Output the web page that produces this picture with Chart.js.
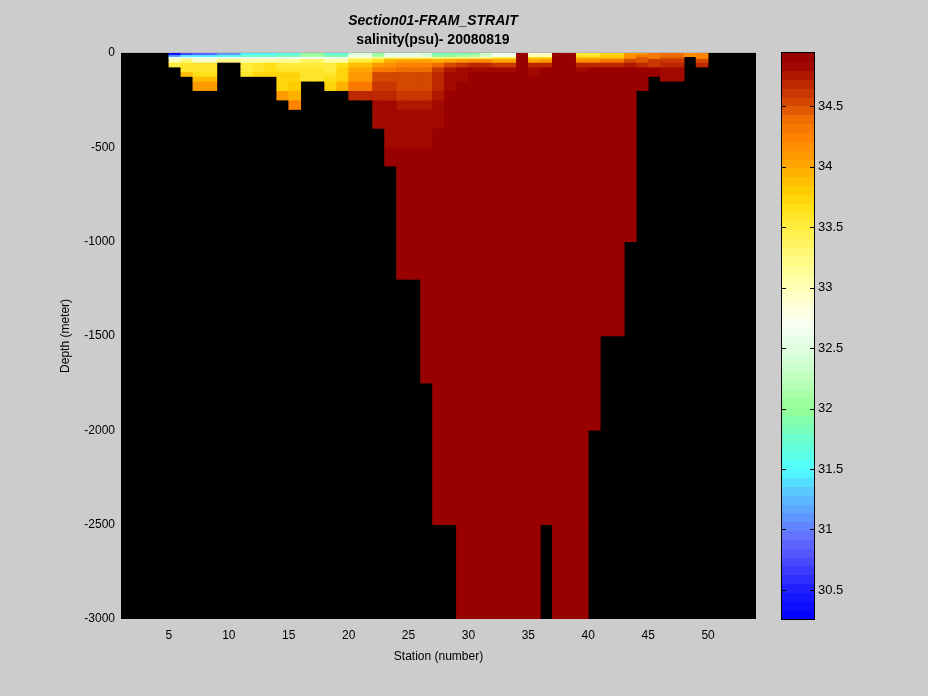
<!DOCTYPE html>
<html><head><meta charset="utf-8">
<script src="https://cdn.jsdelivr.net/npm/chart.js@4.4.1/dist/chart.umd.min.js"></script>
<style>html,body{margin:0;padding:0;background:#cccccc;overflow:hidden}canvas{display:block}</style>
</head><body>
<canvas id="c" width="928" height="696"></canvas>
<script>
// ---------------- DATA ----------------
const titleText = 'Section01-FRAM_STRAIT';
const subtitleText = 'salinity(psu)- 20080819';
const xTitle = 'Station (number)';
const yTitle = 'Depth (meter)';

// station of the left edge of each cell column
const stations = [5,6,7,8,9,10,11,12,13,14,15,16,17,18,19,20,21,22,23,24,25,26,27,28,29,30,31,32,33,34,35,36,37,38,39,40,41,42,43,44,45,46,47,48,49];

// depth levels (m) bounding the cell rows
const depthLevels = [0,10,20,30,50,75,100,125,150,200,250,300,400,500,600,1000,1200,1500,1750,2000,2500,3000];

// salinity profile of every station column, from surface row downward (length = rows with data)
const profiles = [
 /*5*/  [30.35,31.2,32.6,33.0,33.55],
 /*6*/  [30.7,31.5,32.6,33.3,33.6,33.6,33.85],
 /*7*/  [30.9,31.5,32.6,32.95,33.6,33.6,33.65,33.9,34.1],
 /*8*/  [30.9,31.5,32.6,32.95,33.6,33.6,33.65,33.9,34.1],
 /*9*/  [31.1,31.6,32.6,33.2],
 /*10*/ [31.1,31.6,32.6,33.2],
 /*11*/ [31.5,31.75,32.7,33.1,33.55,33.55,33.6],
 /*12*/ [31.5,31.75,32.7,33.1,33.6,33.6,33.7],
 /*13*/ [31.5,31.75,32.7,33.1,33.65,33.65,33.7],
 /*14*/ [31.6,31.8,32.7,33.15,33.55,33.6,33.7,33.75,33.75,34.1],
 /*15*/ [31.6,31.8,32.7,33.15,33.55,33.6,33.7,33.75,33.8,33.95,34.25],
 /*16*/ [31.95,32.1,32.7,33.4,33.55,33.6,33.6,33.6],
 /*17*/ [31.95,32.1,32.7,33.4,33.55,33.6,33.6,33.6],
 /*18*/ [31.7,31.9,32.7,33.1,33.55,33.55,33.6,33.65,33.75],
 /*19*/ [31.7,31.9,32.7,33.1,33.65,33.7,33.7,33.75,33.95],
 /*20*/ [32.4,32.6,33.1,33.55,33.85,34.0,34.1,34.1,34.35,34.7],
 /*21*/ [32.4,32.6,33.1,33.55,33.85,34.0,34.1,34.1,34.35,34.7],
 /*22*/ [32.0,32.1,33.2,33.65,34.1,34.35,34.55,34.55,34.6,34.68,34.82,34.85],
 /*23*/ [32.5,32.6,33.3,33.95,34.15,34.35,34.55,34.55,34.6,34.68,34.82,34.85,34.85,34.93],
 /*24*/ [32.5,32.6,33.3,34.0,34.25,34.42,34.52,34.52,34.52,34.62,34.74,34.85,34.85,34.93,34.93,34.93],
 /*25*/ [32.5,32.6,33.3,34.0,34.25,34.42,34.52,34.52,34.52,34.62,34.74,34.85,34.85,34.93,34.93,34.93],
 /*26*/ [32.4,32.5,33.3,34.0,34.25,34.42,34.52,34.52,34.52,34.62,34.74,34.85,34.85,34.93,34.93,34.93,34.93,34.93],
 /*27*/ [31.85,32.0,33.3,33.95,34.4,34.6,34.7,34.7,34.72,34.75,34.8,34.85,34.93,34.93,34.93,34.93,34.93,34.93,34.93,34.93],
 /*28*/ [31.9,32.0,33.3,34.05,34.55,34.74,34.82,34.82,34.85,34.93,34.93,34.93,34.93,34.93,34.93,34.93,34.93,34.93,34.93,34.93],
 /*29*/ [31.9,32.1,33.3,34.1,34.6,34.8,34.82,34.82,34.87,34.93,34.93,34.93,34.93,34.93,34.93,34.93,34.93,34.93,34.93,34.93,34.93],
 /*30*/ [32.0,32.2,33.3,34.15,34.65,34.82,34.93,34.93,34.93,34.93,34.93,34.93,34.93,34.93,34.93,34.93,34.93,34.93,34.93,34.93,34.93],
 /*31*/ [32.3,32.5,33.3,34.15,34.65,34.82,34.93,34.93,34.93,34.93,34.93,34.93,34.93,34.93,34.93,34.93,34.93,34.93,34.93,34.93,34.93],
 /*32*/ [32.65,32.7,33.55,34.0,34.6,34.8,34.87,34.93,34.93,34.93,34.93,34.93,34.93,34.93,34.93,34.93,34.93,34.93,34.93,34.93,34.93],
 /*33*/ [32.65,32.7,33.55,34.0,34.6,34.8,34.87,34.93,34.93,34.93,34.93,34.93,34.93,34.93,34.93,34.93,34.93,34.93,34.93,34.93,34.93],
 /*34*/ [34.93,34.93,34.93,34.93,34.93,34.93,34.93,34.93,34.93,34.93,34.93,34.93,34.93,34.93,34.93,34.93,34.93,34.93,34.93,34.93,34.93],
 /*35*/ [32.95,33.0,33.75,34.05,34.67,34.82,34.85,34.93,34.93,34.93,34.93,34.93,34.93,34.93,34.93,34.93,34.93,34.93,34.93,34.93,34.93],
 /*36*/ [32.95,33.0,33.75,34.1,34.67,34.87,34.93,34.93,34.93,34.93,34.93,34.93,34.93,34.93,34.93,34.93,34.93,34.93,34.93,34.93],
 /*37*/ [34.93,34.93,34.93,34.93,34.93,34.93,34.93,34.93,34.93,34.93,34.93,34.93,34.93,34.93,34.93,34.93,34.93,34.93,34.93,34.93,34.93],
 /*38*/ [34.93,34.93,34.93,34.93,34.93,34.93,34.93,34.93,34.93,34.93,34.93,34.93,34.93,34.93,34.93,34.93,34.93,34.93,34.93,34.93,34.93],
 /*39*/ [33.55,33.6,33.85,34.15,34.67,34.8,34.93,34.93,34.93,34.93,34.93,34.93,34.93,34.93,34.93,34.93,34.93,34.93,34.93,34.93,34.93],
 /*40*/ [33.55,33.6,33.85,34.2,34.67,34.87,34.93,34.93,34.93,34.93,34.93,34.93,34.93,34.93,34.93,34.93,34.93,34.93,34.93],
 /*41*/ [33.75,33.8,33.9,34.3,34.65,34.87,34.93,34.93,34.93,34.93,34.93,34.93,34.93,34.93,34.93,34.93,34.93],
 /*42*/ [33.75,33.8,33.9,34.3,34.65,34.87,34.93,34.93,34.93,34.93,34.93,34.93,34.93,34.93,34.93,34.93,34.93],
 /*43*/ [34.1,34.15,34.15,34.55,34.74,34.9,34.93,34.93,34.93,34.93,34.93,34.93,34.93,34.93,34.93],
 /*44*/ [34.15,34.3,34.45,34.45,34.7,34.9,34.93,34.93,34.93],
 /*45*/ [34.35,34.35,34.35,34.6,34.6,34.87,34.9],
 /*46*/ [34.42,34.42,34.5,34.62,34.65,34.8,34.8,34.8],
 /*47*/ [34.42,34.42,34.5,34.62,34.65,34.8,34.8,34.8],
 /*48*/ [34.2,34.2],
 /*49*/ [34.25,34.25,34.25,34.55,34.67]
];

const xRange = [1, 54];
const yRange = [-3000, 0];
const xTicks = [5,10,15,20,25,30,35,40,45,50];
const yTicks = [0,-500,-1000,-1500,-2000,-2500,-3000];
const colorRange = [30.26, 34.94];
const cbTicks = [30.5,31,31.5,32,32.5,33,33.5,34,34.5];

// ---------------- STYLE ----------------
const FONT = "'Liberation Sans', Arial, Helvetica, sans-serif";
const NBANDS = 64;
const cmapAnchors = [
 [30.26,[0,0,255]],[30.50,[30,30,255]],[30.80,[85,85,255]],[30.95,[100,115,255]],
 [31.10,[95,150,255]],[31.30,[90,195,255]],[31.50,[80,255,255]],[31.75,[105,255,205]],
 [32.00,[150,255,150]],[32.25,[190,255,190]],[32.50,[225,255,225]],[32.70,[248,255,245]],
 [32.90,[255,255,205]],[33.10,[255,255,160]],[33.30,[255,248,115]],[33.50,[255,237,65]],
 [33.65,[255,225,25]],[33.80,[255,205,0]],[34.00,[255,168,0]],[34.25,[255,130,0]],
 [34.38,[242,112,0]],[34.50,[218,80,0]],[34.65,[195,48,0]],[34.80,[168,14,0]],
 [34.88,[153,0,0]],[34.94,[153,0,0]]
];
function interpColor(v){
  if (v <= cmapAnchors[0][0]) return cmapAnchors[0][1];
  for (let i=1;i<cmapAnchors.length;i++){
    const [v1,c1]=cmapAnchors[i], [v0,c0]=cmapAnchors[i-1];
    if (v <= v1){ const t=(v-v0)/(v1-v0); return c0.map((c,k)=>Math.round(c+(c1[k]-c)*t)); }
  }
  return cmapAnchors[cmapAnchors.length-1][1];
}
const bandStep = (colorRange[1]-colorRange[0])/NBANDS;
const bandColors = [];
for (let i=0;i<NBANDS;i++){
  const c = interpColor(colorRange[0]+(i+0.5)*bandStep);
  bandColors.push(`rgb(${c[0]},${c[1]},${c[2]})`);
}
function colorFor(v){
  let i = Math.floor((v-colorRange[0])/bandStep);
  i = Math.max(0, Math.min(NBANDS-1, i));
  return bandColors[i];
}

// ---------------- DATASETS (one per depth layer) ----------------
const datasets = [];
for (let r=0; r<depthLevels.length-1; r++){
  const pts = [], cols = [];
  stations.forEach((s, j) => {
    const p = profiles[j];
    if (r < p.length){
      pts.push({x: s + 0.5, y: [-depthLevels[r+1], -depthLevels[r]], v: p[r]});
      cols.push(colorFor(p[r]));
    }
  });
  datasets.push({data: pts, backgroundColor: cols, borderWidth: 0, grouped: false,
                 barPercentage: 1, categoryPercentage: 1});
}

const bgPlugin = {
  id: 'bg',
  beforeDraw(chart){
    const {ctx, chartArea:a} = chart;
    ctx.save();
    ctx.fillStyle = '#cccccc';
    ctx.fillRect(0,0,chart.width,chart.height);
    ctx.fillStyle = '#000000';
    ctx.fillRect(a.left, a.top, a.right-a.left, a.bottom-a.top);
    ctx.restore();
  }
};

const colorbarPlugin = {
  id: 'colorbar',
  afterDraw(chart){
    const {ctx} = chart;
    const cb = chart.scales.cb;
    const x0 = 782, w = 32;
    ctx.save();
    for (let i=0;i<NBANDS;i++){
      const yTop = cb.getPixelForValue(colorRange[0]+(i+1)*bandStep);
      const yBot = cb.getPixelForValue(colorRange[0]+i*bandStep);
      ctx.fillStyle = bandColors[i];
      ctx.fillRect(x0, Math.floor(yTop), w, Math.ceil(yBot)-Math.floor(yTop));
    }
    ctx.strokeStyle = '#000'; ctx.lineWidth = 1;
    const yT = Math.round(cb.getPixelForValue(colorRange[1])), yB = Math.round(cb.getPixelForValue(colorRange[0]));
    ctx.strokeRect(x0-0.5, yT-0.5, w+1, yB-yT+1);
    ctx.beginPath();
    cbTicks.forEach(v => {
      const y = Math.round(cb.getPixelForValue(v)) + 0.5;
      ctx.moveTo(x0, y); ctx.lineTo(x0+4, y);
      ctx.moveTo(x0+w-4, y); ctx.lineTo(x0+w, y);
    });
    ctx.stroke();
    ctx.restore();
  }
};

const tickFont = {family: FONT, size: 12};
new Chart(document.getElementById('c'), {
  type: 'bar',
  data: {datasets},
  plugins: [bgPlugin, colorbarPlugin],
  options: {
    responsive: false, animation: false, events: [],
    layout: {padding: {left: 0, right: 62, top: 0, bottom: 0}},
    plugins: {
      legend: {display: false}, tooltip: {enabled: false},
      title: {display: true, text: titleText, color: '#000',
              font: {family: FONT, size: 14, weight: 'bold', style: 'italic', lineHeight: 1.2},
              padding: {top: 12.5, bottom: 1}},
      subtitle: {display: true, text: subtitleText, color: '#000',
              font: {family: FONT, size: 14, weight: 'bold', lineHeight: 1.2},
              padding: {top: 1.2, bottom: 4.6}}
    },
    datasets: {bar: {grouped: false, barPercentage: 1, categoryPercentage: 1}},
    scales: {
      x: {type: 'linear', min: xRange[0], max: xRange[1], offset: false,
          grid: {display: false, drawTicks: false}, border: {display: false},
          afterBuildTicks: s => { s.ticks = xTicks.map(v => ({value: v})); },
          afterFit: s => { s.height = 77; },
          ticks: {color: '#000', font: tickFont, padding: 9, maxRotation: 0, autoSkip: false,
                  callback: v => String(v)},
          title: {display: true, text: xTitle, color: '#000', font: {family: FONT, size: 12, lineHeight: 1.2},
                  padding: {top: 0, bottom: 31.8}}},
      y: {type: 'linear', min: yRange[0], max: yRange[1], beginAtZero: false,
          grid: {display: false, drawTicks: false}, border: {display: false},
          afterBuildTicks: s => { s.ticks = yTicks.slice().reverse().map(v => ({value: v})); },
          afterFit: s => { s.width = 121; },
          ticks: {color: '#000', font: tickFont, padding: 6, autoSkip: false, callback: v => String(v)},
          title: {display: true, text: yTitle, color: '#000', font: {family: FONT, size: 12, lineHeight: 1.2},
                  padding: {top: 58, bottom: 0}}},
      cb: {type: 'linear', position: 'right', min: colorRange[0], max: colorRange[1],
          grid: {display: false, drawTicks: true, tickLength: 56}, border: {display: false},
          afterBuildTicks: s => { s.ticks = cbTicks.map(v => ({value: v})); },
          afterFit: s => { s.width = 928 - 62 - 756; },
          ticks: {color: '#000', font: {family: FONT, size: 13}, padding: 6, autoSkip: false,
                  callback: v => String(v)}}
    }
  }
});
</script>
</body></html>
